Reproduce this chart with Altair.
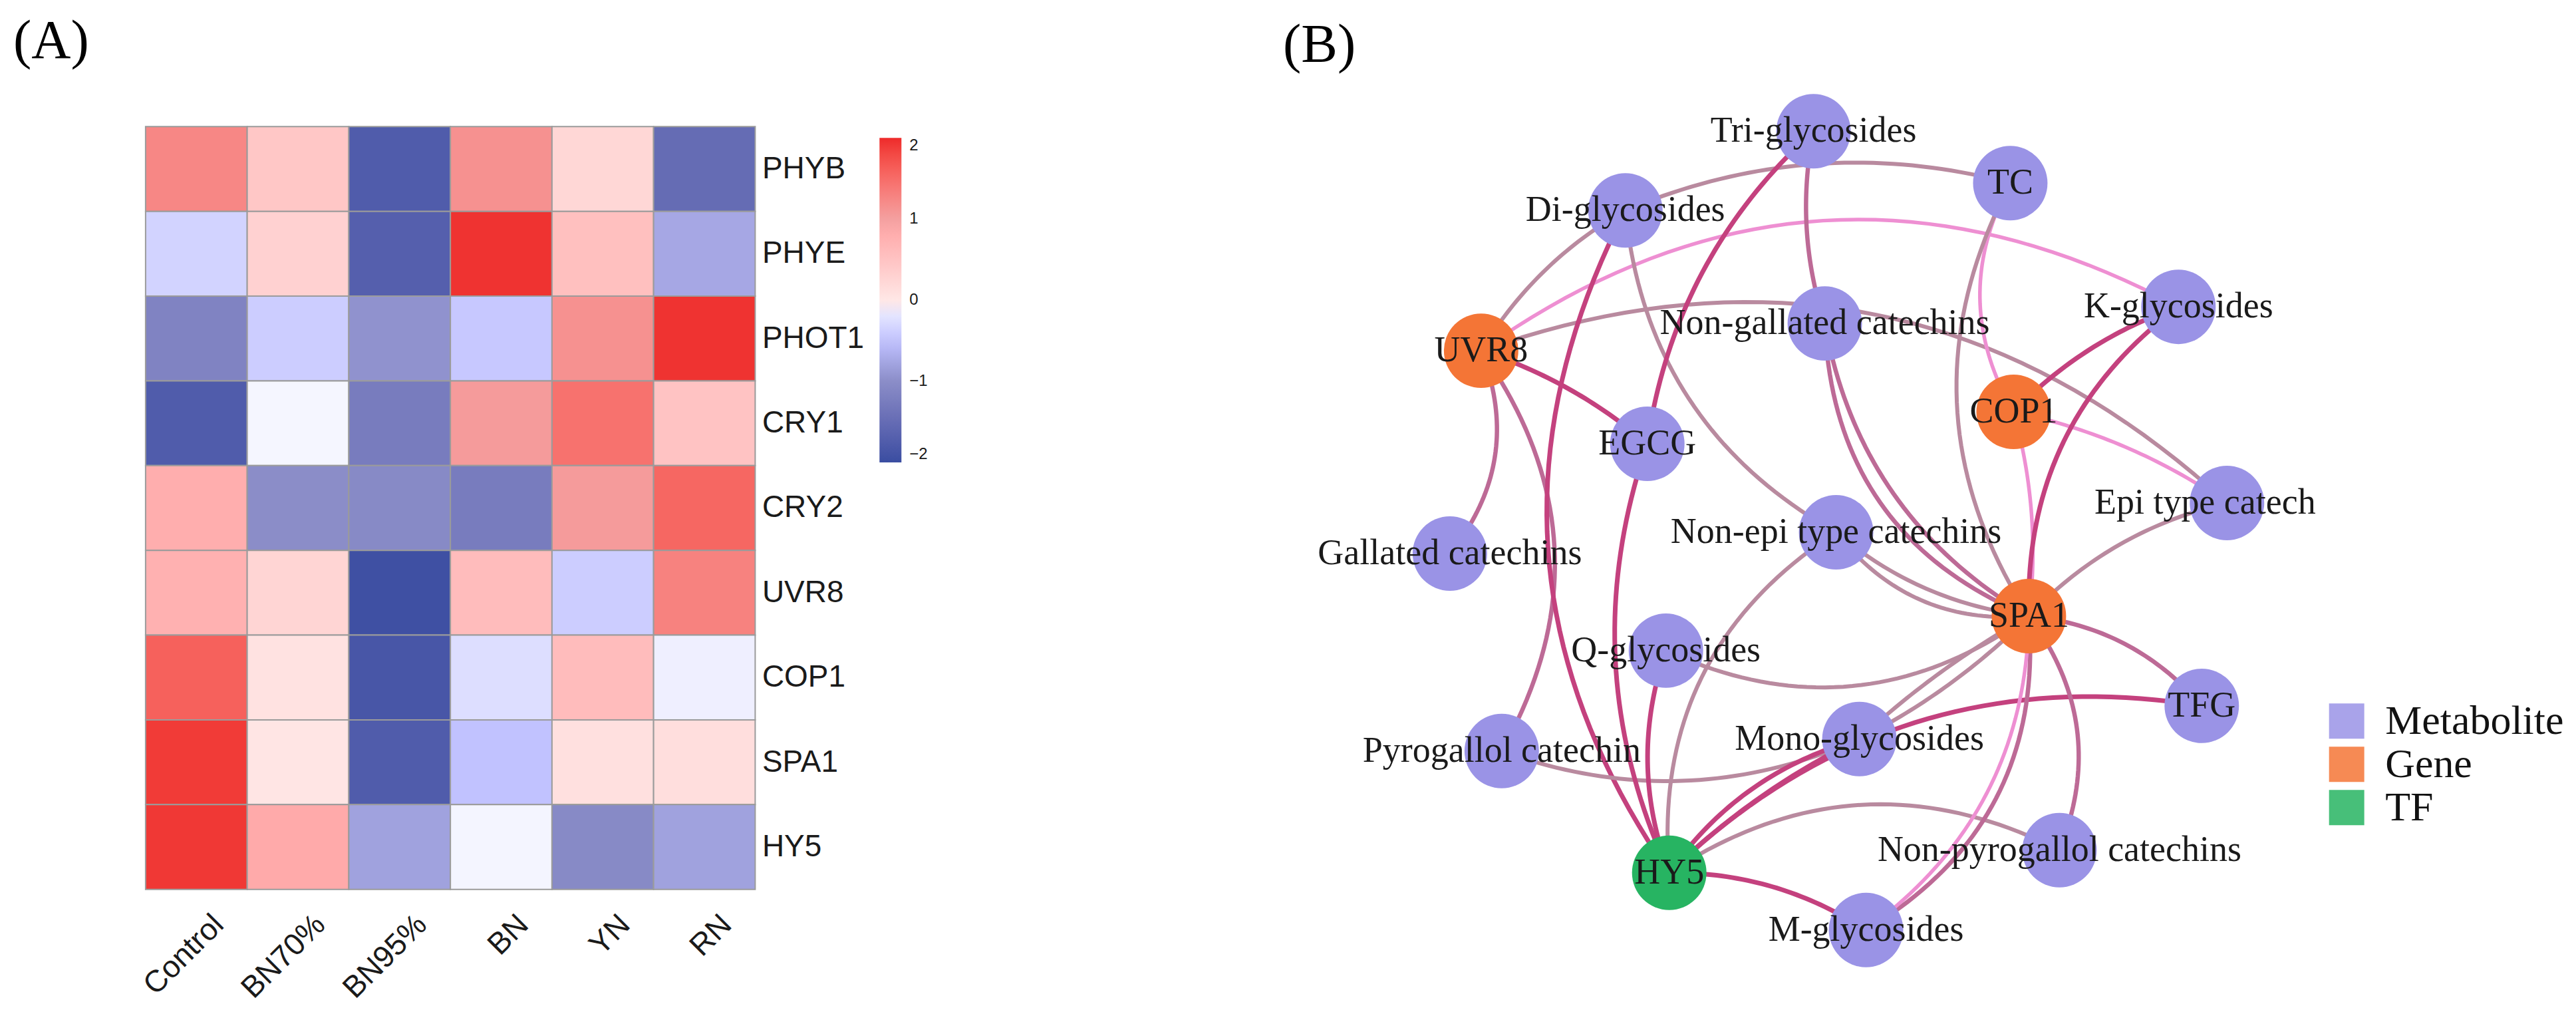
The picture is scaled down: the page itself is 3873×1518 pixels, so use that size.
import math
import altair as alt
import pandas as pd

# ---------------- Panel A: heatmap data ----------------
conditions = ["Control", "BN70%", "BN95%", "BN", "YN", "RN"]
genes = ["PHYB", "PHYE", "PHOT1", "CRY1", "CRY2", "UVR8", "COP1", "SPA1", "HY5"]
z_PHYB = [1.25, 0.45, -1.75, 1.15, 0.22, -1.5]
z_PHYE = [-0.35, 0.3, -1.7, 1.95, 0.55, -0.75]
z_PHOT1 = [-1.15, -0.4, -0.95, -0.45, 1.15, 1.95]
z_CRY1 = [-1.75, -0.04, -1.25, 1.05, 1.45, 0.5]
z_CRY2 = [0.8, -1.0, -1.05, -1.25, 1.05, 1.55]
z_UVR8 = [0.75, 0.25, -1.95, 0.6, -0.4, 1.3]
z_COP1 = [1.6, 0.07, -1.85, -0.25, 0.6, -0.1]
z_SPA1 = [1.9, 0.03, -1.75, -0.5, 0.1, 0.13]
z_HY5 = [1.92, 0.85, -0.8, -0.05, -1.05, -0.8]
z_rows = [z_PHYB, z_PHYE, z_PHOT1, z_CRY1, z_CRY2, z_UVR8, z_COP1, z_SPA1, z_HY5]
scale_ticks = [-2, -1, 0, 1, 2]
scale_colors = ["#3a4da1", "#8b8dc8", "#ffffff", "#f4a0a0", "#ee2a2a"]

# ---------------- Panel B: network data ----------------
node_names = ["Tri-glycosides", "Di-glycosides", "TC", "UVR8", "Non-gallated catechins",
              "K-glycosides", "COP1", "EGCG", "Epi type catech", "Gallated catechins",
              "Non-epi type catechins", "SPA1", "Q-glycosides", "TFG", "Pyrogallol catechin",
              "Mono-glycosides", "HY5", "Non-pyrogallol catechins", "M-glycosides"]
node_group = ["Metabolite", "Metabolite", "Metabolite", "Gene", "Metabolite",
              "Metabolite", "Gene", "Metabolite", "Metabolite", "Metabolite",
              "Metabolite", "Gene", "Metabolite", "Metabolite", "Metabolite",
              "Metabolite", "TF", "Metabolite", "Metabolite"]
node_x = [2728, 2445, 3024, 2228, 2745, 3277, 3029, 2478, 3350, 2181,
          2762, 3052, 2506, 3312, 2259, 2797, 2511, 3098, 2807]
node_y = [201, 320, 279, 531, 490, 465, 623, 671, 760, 836,
          804, 930, 982, 1065, 1133, 1115, 1316, 1282, 1402]
label_dx = [0, 0, 0, 0, 0, 0, 0, 0, -33, 0, 0, 0, 0, 0, 0, 0, 0, 0, 0]

edge_source = ["Di-glycosides", "UVR8", "UVR8", "UVR8", "UVR8", "UVR8", "UVR8",
               "Di-glycosides", "Di-glycosides", "Tri-glycosides", "Tri-glycosides",
               "TC", "TC", "Non-gallated catechins", "Non-gallated catechins",
               "COP1", "COP1", "COP1", "K-glycosides",
               "Non-epi type catechins", "Non-epi type catechins", "Non-epi type catechins",
               "Q-glycosides", "Pyrogallol catechin", "HY5", "HY5", "HY5", "HY5", "HY5",
               "SPA1", "SPA1", "SPA1", "SPA1", "SPA1", "SPA1", "SPA1", "EGCG", "Q-glycosides"]
edge_target = ["TC", "Di-glycosides", "K-glycosides", "Epi type catech", "EGCG",
               "Gallated catechins", "Pyrogallol catechin",
               "HY5", "Non-epi type catechins", "EGCG", "Non-gallated catechins",
               "COP1", "SPA1", "SPA1", "SPA1",
               "K-glycosides", "Epi type catech", "SPA1", "SPA1",
               "SPA1", "SPA1", "HY5",
               "SPA1", "Mono-glycosides", "Mono-glycosides", "Mono-glycosides", "TFG",
               "Non-pyrogallol catechins", "M-glycosides",
               "Epi type catech", "TFG", "Mono-glycosides", "Mono-glycosides",
               "M-glycosides", "M-glycosides", "Non-pyrogallol catechins", "HY5", "HY5"]
edge_kind = ["weak", "weak", "pink", "weak", "strong", "medium", "medium",
             "strong", "weak", "strong", "medium",
             "pink", "weak", "medium", "medium",
             "strong", "pink", "pink", "strong",
             "weak", "weak", "weak",
             "weak", "weak", "strong", "strong", "strong", "weak", "strong",
             "weak", "medium", "weak", "weak", "medium", "pink", "medium", "strong", "strong"]
edge_bend = [-0.17, -0.13, -0.31, -0.30, -0.10, -0.29, -0.315,
             0.30, 0.26, 0.18, 0.13,
             0.28, 0.29, 0.23, 0.32,
             -0.12, -0.10, -0.10, 0.26,
             0.15, 0.27, 0.30,
             0.29, 0.20, -0.08, -0.18, -0.25, -0.29, -0.15,
             -0.15, -0.20, -0.08, 0.06, -0.31, -0.25, -0.28, 0.20, 0.18]

kind_names = ["strong", "medium", "weak", "pink"]
kind_colors = ["#c4417e", "#bd6a96", "#b98a9f", "#ee8fd2"]
kind_widths = [7, 5.5, 5, 4.5]
group_names = ["Metabolite", "Gene", "TF"]
group_colors = ["#9a93e6", "#f47536", "#27b462"]

# ---------------- tables ----------------
heat_rows = []
for g, vals in zip(genes, z_rows):
    for c, v in zip(conditions, vals):
        heat_rows.append({"gene": g, "condition": c, "z": v})
heat_df = pd.DataFrame(heat_rows)

pos = {n: (x, y) for n, x, y in zip(node_names, node_x, node_y)}
edge_rows = []
steps = 40
for i, (s, t, k, b) in enumerate(zip(edge_source, edge_target, edge_kind, edge_bend)):
    x0, y0 = pos[s]
    x1, y1 = pos[t]
    dx, dy = x1 - x0, y1 - y0
    cx = (x0 + x1) / 2 - b * dy
    cy = (y0 + y1) / 2 + b * dx
    for j in range(steps + 1):
        u = j / steps
        px = (1 - u) ** 2 * x0 + 2 * (1 - u) * u * cx + u ** 2 * x1
        py = (1 - u) ** 2 * y0 + 2 * (1 - u) * u * cy + u ** 2 * y1
        edge_rows.append({"eid": i, "ord": j, "x": px, "y": py, "kind": k})
edge_df = pd.DataFrame(edge_rows)

node_df = pd.DataFrame({"name": node_names, "group": node_group, "x": node_x, "y": node_y,
                        "lx": [x + d for x, d in zip(node_x, label_dx)]})

# ---------------- Panel A chart ----------------
heat = alt.Chart(heat_df).mark_rect(stroke="#9b9b9b", strokeWidth=2).encode(
    x=alt.X("condition:N", sort=conditions, title=None,
            scale=alt.Scale(paddingInner=0, paddingOuter=0),
            axis=alt.Axis(orient="bottom", labelAngle=-45, labelFontSize=46,
                          labelFont="Liberation Sans", labelColor="#1a1a1a",
                          ticks=False, domain=False, labelPadding=30, labelOffset=18,
                          labelLimit=600, labelOverlap=False)),
    y=alt.Y("gene:N", sort=genes, title=None,
            scale=alt.Scale(paddingInner=0, paddingOuter=0),
            axis=alt.Axis(orient="right", labelFontSize=46, labelFont="Liberation Sans",
                          labelColor="#1a1a1a", ticks=False, domain=False,
                          labelPadding=10, labelLimit=600, labelOverlap=False)),
    color=alt.Color("z:Q", scale=alt.Scale(domain=scale_ticks, range=scale_colors),
                    legend=alt.Legend(orient="none", legendX=1104, legendY=17,
                                      direction="vertical", gradientLength=488,
                                      gradientThickness=33, title=None, values=scale_ticks,
                                      format="d",
                                      labelFontSize=24, labelFont="Liberation Sans",
                                      labelColor="#1a1a1a", labelOffset=12,
                                      gradientStrokeWidth=0, padding=0,
                                      labelBaseline="middle")),
).properties(
    width=917, height=1147,
    title=alt.TitleParams(text="(A)", anchor="start", frame="group", font="Liberation Serif",
                          fontSize=82, fontWeight="normal", color="#000000", dx=-199,
                          offset=20, baseline="alphabetic"),
)

# ---------------- Panel B chart ----------------
X = alt.X("x:Q", scale=alt.Scale(domain=[1900, 3500], nice=False, zero=False), axis=None)
Y = alt.Y("y:Q", scale=alt.Scale(domain=[194, 1341], nice=False, zero=False, reverse=True),
          axis=None)

edges = alt.Chart(edge_df).mark_line(strokeCap="round").encode(
    x=X, y=Y, detail="eid:N", order="ord:Q",
    stroke=alt.Stroke("kind:N", scale=alt.Scale(domain=kind_names, range=kind_colors), legend=None),
    strokeWidth=alt.StrokeWidth("kind:O", scale=alt.Scale(domain=kind_names, range=kind_widths),
                                legend=None),
)

nodes = alt.Chart(node_df).mark_circle(size=12544, opacity=1, strokeWidth=0).encode(
    x=alt.X("x:Q", scale=alt.Scale(domain=[1900, 3500], nice=False, zero=False), axis=None),
    y=alt.Y("y:Q", scale=alt.Scale(domain=[194, 1341], nice=False, zero=False, reverse=True),
            axis=None),
    fill=alt.Fill("group:N", scale=alt.Scale(domain=group_names, range=group_colors),
                  legend=alt.Legend(orient="none", legendX=1599, legendY=863, title=None,
                                    symbolType="square", symbolSize=2809, symbolStrokeWidth=0,
                                    symbolOpacity=0.85, labelFontSize=62,
                                    labelFont="Liberation Serif", labelColor="#111111",
                                    labelOffset=27, rowPadding=3, padding=0, labelLimit=600)),
)

labels = alt.Chart(node_df).mark_text(font="Liberation Serif", fontSize=54, color="#1a1a1a",
                                      baseline="middle", align="center").encode(
    x=alt.X("lx:Q", scale=alt.Scale(domain=[1900, 3500], nice=False, zero=False), axis=None),
    y=alt.Y("y:Q", scale=alt.Scale(domain=[194, 1341], nice=False, zero=False, reverse=True),
            axis=None),
    text="name:N",
)

net = alt.layer(edges, nodes, labels).properties(
    width=1600, height=1147,
    title=alt.TitleParams(text="(B)", anchor="start", frame="group", font="Liberation Serif",
                          fontSize=82, fontWeight="normal", color="#000000", dx=30,
                          offset=-34, baseline="alphabetic"),
)

chart = alt.hconcat(heat, net, spacing=764, bounds="flush").resolve_scale(
    color="independent", fill="independent", stroke="independent", strokeWidth="independent"
).properties(
    padding={"left": 12, "top": 13, "right": 10, "bottom": 10}
).configure_view(strokeWidth=0)

chart.save("out.html", embed_options={"renderer": "svg", "actions": False})
